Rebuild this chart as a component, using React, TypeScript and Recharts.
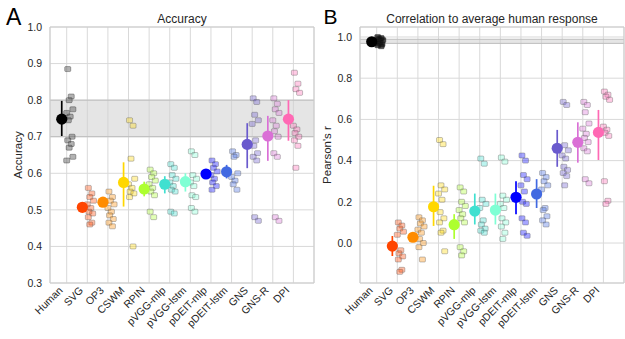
import { ScatterChart, Scatter, XAxis, YAxis, CartesianGrid, ErrorBar, ReferenceArea, ReferenceLine } from 'recharts'

const categories = ['Human', 'SVG', 'OP3', 'CSWM', 'RPIN', 'pVGG-mlp', 'pVGG-lstm', 'pDEIT-mlp', 'pDEIT-lstm', 'GNS', 'GNS-R', 'DPI']
const colors = ['#000000', '#ff4500', '#ff8c00', '#ffd700', '#adff2f', '#40e0d0', '#7fffd4', '#0000ff', '#4169e1', '#6a5acd', '#da70d6', '#ff69b4']

// panel A: accuracy, mean with interval
const accMean = [0.748, 0.507, 0.521, 0.575, 0.557, 0.57, 0.577, 0.598, 0.604, 0.679, 0.702, 0.748]
const accLow = [0.702, 0.5, 0.514, 0.509, 0.537, 0.545, 0.55, 0.585, 0.586, 0.614, 0.634, 0.689]
const accHigh = [0.798, 0.514, 0.528, 0.63, 0.577, 0.592, 0.6, 0.612, 0.623, 0.737, 0.757, 0.8]

// panel A: individual models per category
const accModels = [
    [0.885, 0.81, 0.8, 0.775, 0.765, 0.755, 0.745, 0.7, 0.69, 0.68, 0.67, 0.645, 0.635],
    [0.56, 0.545, 0.535, 0.525, 0.515, 0.505, 0.495, 0.49, 0.48, 0.465, 0.46],
    [0.55, 0.535, 0.525, 0.515, 0.505, 0.495, 0.485, 0.475, 0.465, 0.455],
    [0.745, 0.73, 0.64, 0.585, 0.57, 0.56, 0.55, 0.545, 0.535, 0.4],
    [0.61, 0.6, 0.59, 0.58, 0.57, 0.56, 0.55, 0.54, 0.495, 0.48],
    [0.625, 0.615, 0.595, 0.585, 0.575, 0.565, 0.555, 0.55, 0.495, 0.49],
    [0.66, 0.65, 0.595, 0.585, 0.575, 0.565, 0.54, 0.535, 0.505, 0.495],
    [0.635, 0.625, 0.615, 0.605, 0.595, 0.585, 0.575, 0.565, 0.555],
    [0.66, 0.65, 0.645, 0.6, 0.59, 0.58, 0.57, 0.555],
    [0.805, 0.795, 0.76, 0.745, 0.735, 0.69, 0.675, 0.655, 0.645, 0.635, 0.48, 0.47],
    [0.805, 0.79, 0.775, 0.765, 0.745, 0.73, 0.715, 0.7, 0.655, 0.645, 0.48, 0.47],
    [0.875, 0.845, 0.83, 0.82, 0.73, 0.72, 0.71, 0.7, 0.69, 0.675, 0.615],
]

// panel B: correlation to average human response
const corrMean = [0.977, -0.015, 0.028, 0.176, 0.089, 0.155, 0.16, 0.222, 0.238, 0.46, 0.489, 0.537]
const corrLow = [0.974, -0.063, 0.01, 0.083, 0.02, 0.09, 0.09, 0.14, 0.17, 0.37, 0.39, 0.403]
const corrHigh = [0.98, 0.034, 0.045, 0.278, 0.14, 0.24, 0.24, 0.3, 0.31, 0.549, 0.586, 0.646]

const corrModels = [
    [1.0, 0.995, 0.99, 0.985, 0.98, 0.975, 0.97, 0.965, 0.96, 0.955],
    [0.1, 0.085, 0.07, 0.055, 0.04, -0.035, -0.05, -0.065, -0.08, -0.13, -0.14],
    [0.125, 0.11, 0.095, 0.08, 0.065, 0.05, 0.02, 0.0, -0.02, -0.08],
    [0.5, 0.48, 0.28, 0.26, 0.24, 0.21, 0.15, 0.12, 0.1, 0.06, 0.05, -0.04],
    [0.27, 0.25, 0.2, 0.18, 0.16, 0.14, 0.12, 0.1, -0.02, -0.04, -0.06],
    [0.41, 0.385, 0.21, 0.19, 0.17, 0.11, 0.09, 0.07, 0.06, 0.05],
    [0.415, 0.395, 0.23, 0.21, 0.19, 0.17, 0.12, 0.1, 0.08, 0.05, 0.02],
    [0.425, 0.4, 0.33, 0.31, 0.28, 0.25, 0.2, 0.19, 0.12, 0.1, 0.05, 0.035],
    [0.34, 0.32, 0.3, 0.28, 0.26, 0.17, 0.16, 0.13, 0.11, 0.09],
    [0.685, 0.67, 0.475, 0.45, 0.425, 0.41, 0.37, 0.355, 0.34, 0.325, 0.28],
    [0.685, 0.67, 0.635, 0.58, 0.555, 0.53, 0.51, 0.49, 0.46, 0.445, 0.31, 0.29],
    [0.735, 0.72, 0.71, 0.695, 0.565, 0.55, 0.535, 0.52, 0.3, 0.205, 0.19],
]

const accTicks = [0.3, 0.4, 0.5, 0.6, 0.7, 0.8, 0.9, 1.0]
const corrTicks = [0, 0.2, 0.4, 0.6, 0.8, 1.0]
const xTicks = categories.map((_, i) => i)

const FONT = '"Liberation Sans", Arial, sans-serif'
const TEXT = '#262626'
const X_DOMAIN: [number, number] = [-0.81, 12.0]
const MEAN_SHIFT = -0.24
const DODGE = [0.05, 0.22, 0.12, 0.3, 0.0, 0.17, 0.08, 0.26]

type ModelPoint = { x: number; y: number; color: string; human: boolean; dark: boolean }

function buildModels(models: number[][], darkHuman: boolean) {
    const pts: ModelPoint[] = []
    models.forEach((vals, i) => {
        vals.forEach((v, j) => {
            pts.push({ x: i + DODGE[j % DODGE.length], y: v, color: colors[i], human: i === 0, dark: darkHuman })
        })
    })
    return pts
}

function buildMeans(mean: number[], lo: number[], hi: number[]) {
    return mean.map((m, i) => [{ x: i + MEAN_SHIFT, y: m, err: [m - lo[i], hi[i] - m] }])
}

const ModelMark = (props: any) => {
    const { cx, cy, payload } = props
    if (cx == null || cy == null) return null
    const human = payload.human
    return (
        <rect
            x={cx - 3}
            y={cy - 2.5}
            width={6}
            height={5}
            rx={1}
            fill={human ? (payload.dark ? '#111' : '#555') : payload.color}
            fillOpacity={human ? (payload.dark ? 0.75 : 0.45) : 0.35}
            stroke={human ? '#222' : '#555'}
            strokeOpacity={0.45}
            strokeWidth={0.8}
        />
    )
}

const MeanDot = (props: any) => {
    const { cx, cy, fill } = props
    if (cx == null || cy == null) return null
    return <circle cx={cx} cy={cy} r={5.6} fill={fill} />
}

const XTick = (props: any) => {
    const { x, y, payload } = props
    return (
        <text
            x={0}
            y={0}
            transform={`translate(${x - 3.4},${y + 8}) rotate(-45)`}
            textAnchor="end"
            fontSize={10.5}
            fontFamily={FONT}
            fill={TEXT}
        >
            {categories[payload.value]}
        </text>
    )
}

interface PanelProps {
    width: number
    marginRight: number
    domain: [number, number]
    ticks: number[]
    means: { x: number; y: number; err: number[] }[][]
    models: ModelPoint[]
    band: [number, number]
}

function Panel({ width, marginRight, domain, ticks, means, models, band }: PanelProps) {
    return (
        <ScatterChart width={width} height={339} margin={{ top: 27, right: marginRight, bottom: 0, left: 0 }}>
            <CartesianGrid stroke="#d9d9d9" strokeWidth={1} />
            <ReferenceArea y1={band[0]} y2={band[1]} fill="#d0d0d0" fillOpacity={0.55} stroke="none" />
            <ReferenceLine y={band[0]} stroke="#bdbdbd" strokeWidth={1} />
            <ReferenceLine y={band[1]} stroke="#bdbdbd" strokeWidth={1} />
            <XAxis
                type="number"
                dataKey="x"
                domain={X_DOMAIN}
                allowDataOverflow
                ticks={xTicks}
                interval={0}
                height={56}
                tickLine={false}
                tickSize={0}
                tickMargin={0}
                axisLine={{ stroke: '#cccccc' }}
                tick={<XTick />}
            />
            <YAxis
                type="number"
                dataKey="y"
                domain={domain}
                allowDataOverflow
                ticks={ticks}
                interval={0}
                width={50}
                tickLine={false}
                tickSize={0}
                tickMargin={8}
                axisLine={{ stroke: '#cccccc' }}
                tickFormatter={(v: number) => v.toFixed(1)}
                tick={{ fontSize: 10.5, fill: TEXT, fontFamily: FONT }}
            />
            <ReferenceLine x={X_DOMAIN[1]} stroke="#cccccc" />
            <ReferenceLine y={domain[1]} stroke="#cccccc" />
            <Scatter data={models} shape={<ModelMark />} isAnimationActive={false} />
            {means.map((d, i) => (
                <Scatter key={categories[i]} data={d} fill={colors[i]} shape={<MeanDot />} isAnimationActive={false}>
                    <ErrorBar dataKey="err" direction="y" width={0} stroke={colors[i]} strokeWidth={1.7} isAnimationActive={false} />
                </Scatter>
            ))}
        </ScatterChart>
    )
}

export default function App() {
    const accMeans = buildMeans(accMean, accLow, accHigh)
    const corrMeans = buildMeans(corrMean, corrLow, corrHigh)
    return (
        <div style={{ position: 'fixed', left: 0, top: 0, width: 625, height: 339, background: '#fff' }}>
            <div style={{ position: 'absolute', left: 0, top: 0 }}>
                <Panel
                    width={318}
                    marginRight={4}
                    domain={[0.3, 1.0]}
                    ticks={accTicks}
                    means={accMeans}
                    models={buildModels(accModels, false)}
                    band={[0.7, 0.8]}
                />
            </div>
            <div style={{ position: 'absolute', left: 310, top: 0 }}>
                <Panel
                    width={315}
                    marginRight={1}
                    domain={[-0.194, 1.0485]}
                    ticks={corrTicks}
                    means={corrMeans}
                    models={buildModels(corrModels, true)}
                    band={[0.969, 0.989]}
                />
            </div>
            <svg width={625} height={339} style={{ position: 'absolute', left: 0, top: 0, pointerEvents: 'none' }}>
                <text x={6} y={25} fontSize={23} fontFamily={FONT} fill="#000">A</text>
                <text x={323.5} y={24} fontSize={21} fontFamily={FONT} fill="#000">B</text>
                <text x={182} y={23} textAnchor="middle" fontSize={12} fontFamily={FONT} fill={TEXT}>Accuracy</text>
                <text x={492} y={23} textAnchor="middle" fontSize={12} fontFamily={FONT} fill={TEXT}>Correlation to average human response</text>
                <text transform="translate(21.5,155) rotate(-90)" textAnchor="middle" fontSize={11.5} fontFamily={FONT} fill={TEXT}>Accuracy</text>
                <text transform="translate(331,155) rotate(-90)" textAnchor="middle" fontSize={11.5} fontFamily={FONT} fill={TEXT}>Pearson's r</text>
            </svg>
        </div>
    )
}
